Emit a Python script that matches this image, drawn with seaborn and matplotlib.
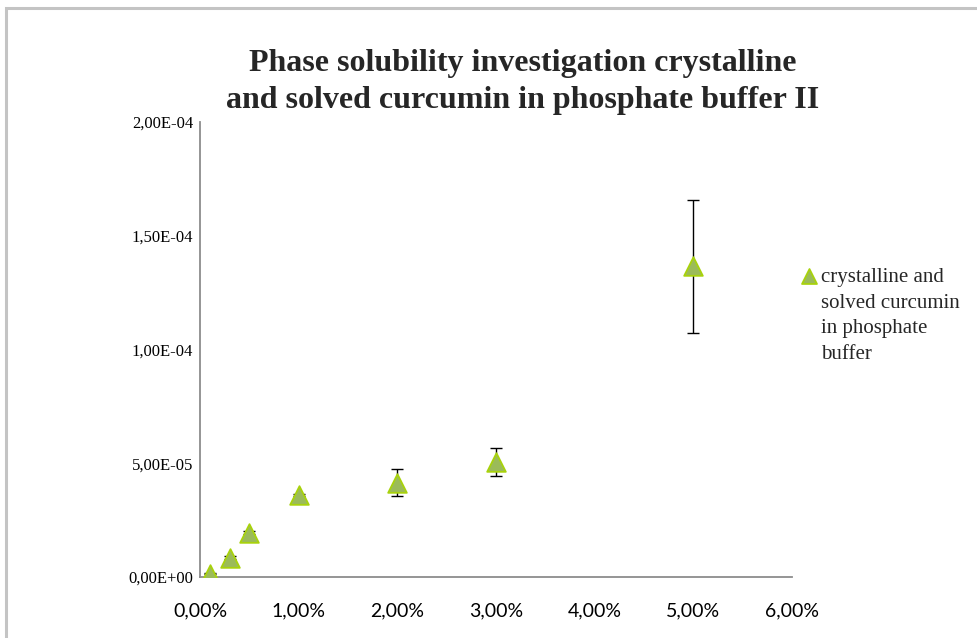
import numpy as np
import pandas as pd
import matplotlib
matplotlib.use("Agg")
import matplotlib.pyplot as plt
import seaborn as sns
from matplotlib.ticker import FuncFormatter
from matplotlib.patches import Rectangle

# data
konzentration = [0.001, 0.003, 0.005, 0.01, 0.02, 0.03, 0.05]
loeslichkeit = [1.5e-6, 8.5e-6, 19.5e-6, 36.0e-6, 41.5e-6, 50.5e-6, 136.5e-6]
fehler = [0.3e-6, 0.8e-6, 0.8e-6, 0.6e-6, 6.0e-6, 6.3e-6, 29.3e-6]
serie = ["crystalline and", "solved curcumin", "in phosphate", "buffer"]
titel = "Phase solubility investigation crystalline\nand solved curcumin in phosphate buffer II"

df = pd.DataFrame({"x": konzentration, "y": loeslichkeit, "err": fehler})

sns.set_style("white")
plt.rcParams["font.family"] = ["Liberation Serif", "DejaVu Serif"]

fig = plt.figure(figsize=(9.78, 6.38), dpi=100)
ax = fig.add_axes([200 / 978, 1 - 577 / 638, 592 / 978, 455 / 638])

# outer chart frame
fig.patches.append(Rectangle((6 / 978, -0.1), 1.2, 1 - 8 / 638 + 0.1, transform=fig.transFigure,
                             fill=False, edgecolor="#c4c4c4", linewidth=2.2, zorder=0))

ax.errorbar(df["x"], df["y"], yerr=df["err"], fmt="none", ecolor="black",
            elinewidth=1.0, capsize=4, capthick=1.0, zorder=2)
sns.scatterplot(data=df, x="x", y="y", marker="^", s=180, color="#9bbb59",
                edgecolor="#a8d20c", linewidth=1.3, ax=ax, zorder=3,
                label=serie[0])

ax.set_xlim(0, 0.06)
ax.set_ylim(0, 2e-4)
ax.set_xticks(np.arange(0, 0.061, 0.01))
ax.set_yticks(np.arange(0, 2.01e-4, 5e-5))
ax.xaxis.set_major_formatter(FuncFormatter(lambda v, p: f"{v * 100:.2f}%".replace(".", ",")))
ax.yaxis.set_major_formatter(FuncFormatter(lambda v, p: f"{v:.2E}".replace(".", ",")))
ax.set_xlabel("")
ax.set_ylabel("")

for s in ["top", "right"]:
    ax.spines[s].set_visible(False)
for s in ["left", "bottom"]:
    ax.spines[s].set_color("#8c8c8c")
    ax.spines[s].set_linewidth(1.3)
ax.tick_params(axis="both", direction="out", length=4, width=1.2, color="#8c8c8c",
               labelcolor="black", labelsize=12)
ax.tick_params(axis="x", pad=14)
ax.tick_params(axis="y", pad=1)
for lab in ax.get_xticklabels():
    lab.set_family(["Lato", "DejaVu Sans"])
    lab.set_fontsize(14)

fig.text(523 / 978, 1 - 82 / 638, titel, ha="center", va="center", fontsize=23,
         fontweight="bold", linespacing=1.4)

leg = ax.legend(loc="upper left", bbox_to_anchor=(800 / 978, 1 - 267 / 638),
                bbox_transform=fig.transFigure, frameon=False, fontsize=15,
                handletextpad=0.1, handlelength=0.9, borderaxespad=0, borderpad=0,
                markerscale=0.8)

# remaining lines of the legend label, stacked under the first one
fig.canvas.draw()
t0 = leg.get_texts()[0]
bb = t0.get_window_extent()
x0 = bb.x0 / fig.bbox.width
fig.text(x0, bb.y0 / fig.bbox.height - 7 / 638, "\n".join(serie[1:]), ha="left", va="top",
         fontsize=15, linespacing=1.48)

fig.savefig("out.png", dpi=100)
